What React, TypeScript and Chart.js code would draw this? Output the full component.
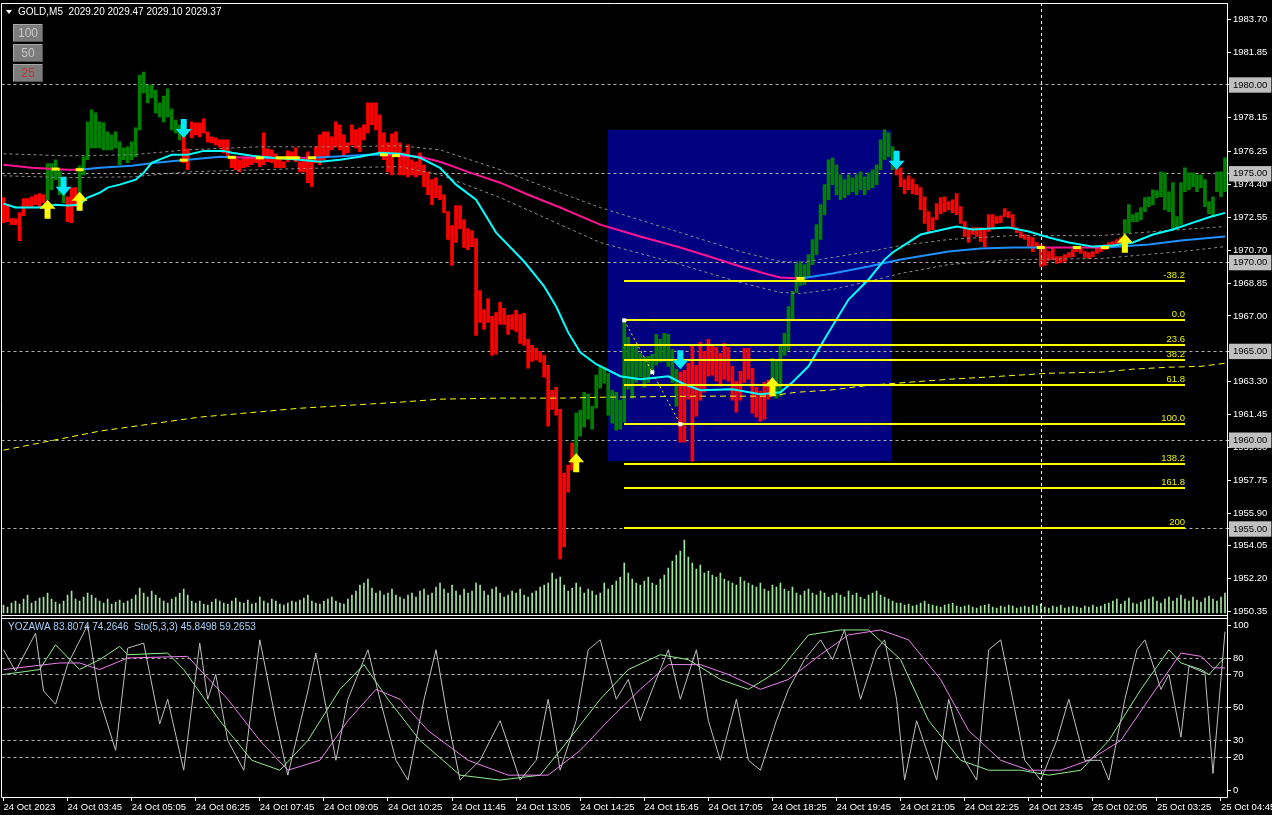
import { useEffect, useRef } from 'react';
import { Chart, registerables } from 'chart.js';

Chart.register(...registerables);

const FONT = '"Liberation Sans", Arial, sans-serif';
const BAR_COUNT = 306;

// Time axis: one label every 16 five-minute bars
const LABEL_STEP = 16;
const timeLabels = [
  '24 Oct 2023', '24 Oct 03:45', '24 Oct 05:05', '24 Oct 06:25', '24 Oct 07:45',
  '24 Oct 09:05', '24 Oct 10:25', '24 Oct 11:45', '24 Oct 13:05', '24 Oct 14:25',
  '24 Oct 15:45', '24 Oct 17:05', '24 Oct 18:25', '24 Oct 19:45', '24 Oct 21:05',
  '24 Oct 22:25', '24 Oct 23:45', '25 Oct 02:05', '25 Oct 03:25', '25 Oct 04:45',
];

// Bar highs / lows (GOLD M5)
const barHigh = [
  1973.66, 1973.26, 1972.48, 1972.48, 1972.81, 1973.60, 1973.60, 1973.71, 1973.82, 1973.88,
  1973.82, 1975.57, 1975.57, 1975.79, 1975.23, 1974.27, 1973.71, 1974.22, 1974.22, 1975.45,
  1975.96, 1977.92, 1978.60, 1978.43, 1977.92, 1977.87, 1977.36, 1977.19, 1977.36, 1976.80,
  1976.46, 1976.52, 1976.80, 1977.59, 1980.56, 1980.73, 1980.00, 1980.00, 1979.72, 1978.99,
  1979.38, 1979.78, 1978.65, 1978.03, 1977.76, 1977.87, 1976.41, 1977.92, 1977.87, 1977.87,
  1978.09, 1977.36, 1977.08, 1977.02, 1976.91, 1976.91, 1976.91, 1975.96, 1975.96, 1975.79,
  1975.96, 1975.96, 1975.90, 1975.90, 1975.90, 1977.30, 1976.41, 1976.35, 1976.13, 1975.90,
  1975.68, 1976.29, 1976.24, 1976.46, 1975.68, 1975.79, 1976.24, 1975.79, 1976.52, 1977.19,
  1977.36, 1977.36, 1977.08, 1977.92, 1977.76, 1977.19, 1976.74, 1977.76, 1977.47, 1977.59,
  1977.76, 1978.99, 1978.99, 1978.99, 1978.31, 1977.30, 1976.74, 1977.25, 1977.36, 1976.74,
  1976.18, 1976.63, 1975.79, 1975.68, 1976.18, 1975.51, 1975.11, 1974.67, 1974.78, 1974.33,
  1973.82, 1972.87, 1972.08, 1973.21, 1973.21, 1972.42, 1971.91, 1971.80, 1971.35, 1968.43,
  1967.36, 1967.98, 1966.97, 1967.19, 1967.76, 1967.42, 1967.03, 1967.08, 1967.31, 1967.08,
  1967.14, 1965.68, 1965.34, 1965.17, 1965.00, 1964.78, 1964.22, 1962.81, 1962.98, 1961.74,
  1958.15, 1958.60, 1959.84, 1961.52, 1961.69, 1962.70, 1962.59, 1961.91, 1963.66, 1964.11,
  1964.11, 1963.77, 1962.81, 1962.70, 1962.25, 1966.69, 1965.79, 1965.29, 1965.34, 1964.89,
  1964.67, 1964.72, 1964.84, 1965.96, 1965.68, 1966.02, 1965.96, 1965.12, 1964.00, 1963.83,
  1963.94, 1964.33, 1965.29, 1964.22, 1965.51, 1965.00, 1965.68, 1965.29, 1965.23, 1964.89,
  1965.45, 1965.23, 1964.16, 1963.32, 1963.88, 1965.17, 1965.17, 1964.05, 1962.98, 1962.76,
  1963.26, 1963.38, 1964.61, 1964.56, 1965.29, 1966.02, 1967.53, 1968.38, 1969.95, 1970.06,
  1969.89, 1970.45, 1971.30, 1972.14, 1973.26, 1974.39, 1975.79, 1975.90, 1975.51, 1974.94,
  1974.67, 1974.94, 1974.78, 1974.94, 1975.11, 1974.83, 1975.06, 1975.23, 1975.51, 1976.91,
  1977.47, 1977.30, 1976.52, 1975.79, 1975.34, 1974.67, 1974.89, 1974.72, 1974.39, 1974.22,
  1973.71, 1972.87, 1972.53, 1973.32, 1973.66, 1973.71, 1973.43, 1973.54, 1973.88, 1973.15,
  1972.31, 1971.91, 1971.97, 1971.97, 1971.97, 1971.86, 1972.70, 1972.70, 1972.59, 1972.64,
  1973.04, 1972.87, 1972.70, 1971.97, 1971.75, 1971.58, 1971.47, 1971.41, 1971.13, 1971.02,
  1970.85, 1970.62, 1970.85, 1970.34, 1970.34, 1970.45, 1970.57, 1970.73, 1970.90, 1970.79,
  1970.62, 1970.57, 1970.62, 1970.85, 1970.96, 1971.02, 1971.13, 1971.18, 1971.30, 1971.41,
  1972.42, 1973.26, 1972.70, 1972.81, 1973.10, 1973.66, 1973.71, 1974.10, 1974.05, 1975.11,
  1975.06, 1973.99, 1974.50, 1972.59, 1974.50, 1975.34, 1975.06, 1975.06, 1974.94, 1974.94,
  1974.67, 1973.43, 1973.71, 1975.11, 1975.11, 1975.90,
];
const barLow = [
  1972.25, 1972.31, 1972.14, 1972.14, 1971.24, 1972.64, 1973.10, 1973.15, 1973.26, 1973.15,
  1973.38, 1973.54, 1974.10, 1974.67, 1973.82, 1973.38, 1972.31, 1972.25, 1973.15, 1973.26,
  1974.94, 1975.79, 1976.46, 1976.46, 1976.46, 1976.35, 1976.35, 1976.35, 1976.46, 1975.51,
  1975.79, 1975.62, 1975.79, 1975.96, 1977.47, 1979.55, 1978.99, 1979.27, 1978.43, 1978.20,
  1977.92, 1978.20, 1977.47, 1977.30, 1976.91, 1975.62, 1975.23, 1977.02, 1977.19, 1977.08,
  1977.30, 1976.80, 1976.74, 1976.63, 1976.52, 1976.18, 1975.90, 1975.34, 1975.23, 1975.11,
  1975.34, 1975.40, 1975.51, 1975.62, 1975.40, 1975.51, 1975.68, 1975.62, 1975.34, 1975.34,
  1975.34, 1975.68, 1975.79, 1975.68, 1975.11, 1975.11, 1974.50, 1974.27, 1975.62, 1975.51,
  1975.79, 1975.96, 1976.35, 1976.52, 1976.35, 1975.96, 1976.18, 1976.63, 1976.46, 1976.24,
  1976.91, 1977.30, 1977.76, 1977.47, 1976.24, 1975.79, 1975.11, 1974.94, 1975.96, 1974.94,
  1974.94, 1974.83, 1974.94, 1974.83, 1974.94, 1974.27, 1973.82, 1973.26, 1973.66, 1973.54,
  1972.81, 1971.30, 1969.84, 1971.13, 1971.91, 1970.85, 1970.73, 1970.90, 1965.90, 1966.63,
  1966.24, 1966.63, 1964.78, 1964.84, 1966.52, 1966.52, 1965.96, 1966.24, 1966.13, 1965.45,
  1965.34, 1964.05, 1964.44, 1964.50, 1964.39, 1963.55, 1960.79, 1961.74, 1961.41, 1953.32,
  1953.99, 1957.08, 1958.32, 1958.26, 1960.23, 1960.73, 1961.18, 1960.62, 1961.80, 1962.93,
  1963.21, 1961.41, 1960.96, 1960.57, 1960.62, 1961.01, 1962.87, 1962.37, 1963.26, 1963.55,
  1962.98, 1963.26, 1963.83, 1964.22, 1964.39, 1964.44, 1964.16, 1963.26, 1961.91, 1959.89,
  1959.89, 1962.31, 1958.82, 1961.35, 1962.25, 1962.70, 1963.60, 1963.66, 1963.32, 1963.04,
  1963.43, 1963.32, 1962.25, 1961.58, 1962.25, 1963.26, 1963.43, 1961.52, 1961.30, 1961.07,
  1961.18, 1962.31, 1962.48, 1962.37, 1962.48, 1964.78, 1965.06, 1966.75, 1968.32, 1968.71,
  1968.77, 1969.22, 1969.89, 1970.45, 1971.30, 1972.70, 1973.54, 1974.39, 1973.82, 1973.54,
  1973.66, 1973.82, 1973.99, 1973.82, 1974.10, 1973.82, 1974.10, 1974.22, 1974.39, 1975.23,
  1975.79, 1975.96, 1975.23, 1974.94, 1974.27, 1973.88, 1974.10, 1973.88, 1973.82, 1972.98,
  1972.20, 1971.69, 1971.86, 1972.42, 1972.76, 1972.87, 1972.98, 1972.81, 1972.70, 1972.20,
  1971.47, 1971.13, 1971.58, 1971.47, 1971.18, 1970.90, 1971.75, 1971.97, 1972.20, 1972.25,
  1972.59, 1972.53, 1971.91, 1971.69, 1971.41, 1971.30, 1970.85, 1970.62, 1970.85, 1969.78,
  1969.84, 1970.12, 1970.17, 1969.95, 1970.01, 1970.06, 1970.29, 1970.34, 1970.62, 1970.51,
  1970.29, 1970.23, 1970.34, 1970.51, 1970.62, 1970.73, 1970.85, 1970.90, 1970.96, 1971.07,
  1971.58, 1971.69, 1972.31, 1972.31, 1972.42, 1972.87, 1973.15, 1973.26, 1973.66, 1973.71,
  1972.98, 1972.87, 1971.86, 1971.97, 1972.14, 1973.99, 1974.10, 1974.27, 1973.99, 1974.22,
  1973.15, 1972.76, 1972.59, 1973.99, 1973.71, 1973.99,
];
// Bar colour runs: 'u' = up (green), 'd' = down (red)
const trendRuns: [string, number][] = [
  ['d', 11], ['u', 5], ['d', 3], ['u', 26], ['d', 98], ['u', 26], ['d', 23], ['u', 31], ['d', 57], ['u', 26],
];
// Tick volume per bar
const tickVolume = [
  8, 6, 10, 12, 9, 14, 18, 10, 12, 15, 16, 20, 14, 11, 9, 12,
  18, 22, 14, 12, 16, 20, 18, 15, 12, 10, 14, 9, 11, 13, 10, 12,
  14, 18, 25, 20, 16, 22, 18, 15, 12, 10, 14, 16, 20, 24, 18, 12,
  10, 12, 9, 8, 11, 14, 12, 10, 9, 12, 15, 11, 10, 13, 9, 10,
  16, 12, 10, 14, 12, 9, 8, 10, 12, 11, 13, 15, 18, 12, 10, 9,
  12, 14, 16, 12, 10, 9, 14, 18, 22, 28, 30, 34, 25, 20, 22, 18,
  20, 24, 18, 16, 14, 18, 20, 16, 22, 24, 18, 20, 26, 30, 24, 20,
  28, 22, 18, 24, 20, 22, 30, 28, 22, 18, 24, 26, 20, 16, 18, 22,
  20, 24, 18, 16, 20, 22, 26, 28, 30, 40, 34, 36, 28, 22, 25, 30,
  26, 20, 24, 22, 18, 20, 30, 24, 28, 32, 36, 50, 40, 34, 30, 28,
  32, 36, 30, 28, 34, 38, 45, 52, 58, 62, 73, 56, 50, 44, 48, 40,
  42, 38, 36, 40, 34, 32, 30, 28, 36, 32, 30, 28, 26, 30, 24, 22,
  28, 26, 30, 24, 22, 26, 20, 18, 22, 24, 20, 18, 22, 20, 16, 18,
  20, 18, 16, 22, 18, 20, 16, 14, 18, 20, 22, 18, 16, 14, 12, 10,
  10, 8, 9, 7, 8, 10, 12, 9, 8, 7, 6, 8, 9, 10, 7, 6,
  7, 8, 6, 5, 7, 8, 9, 6, 5, 7, 6, 8, 7, 5, 6, 7,
  6, 8, 7, 9, 6, 5, 7, 6, 8, 5, 6, 7, 6, 5, 7, 6,
  8, 6, 7, 9, 10, 12, 14, 9, 12, 15, 10, 9, 11, 13, 14, 16,
  12, 10, 14, 16, 12, 15, 18, 14, 12, 16, 13, 11, 15, 17, 14, 12,
  16, 20,
];

// Slow moving average [bar, price] and its falling stretches (drawn pink)
const slowMa: [number, number][] = [
  [0, 1975.51], [7, 1975.34], [16, 1975.23], [19, 1975.23], [24, 1975.34], [32, 1975.45], [38, 1975.62],
  [46, 1975.79], [54, 1975.96], [57, 1975.93], [64, 1975.90], [69, 1975.90], [71, 1975.90], [73, 1975.90],
  [77, 1975.90], [82, 1975.96], [91, 1976.07], [95, 1976.07], [99, 1976.01], [104, 1975.96], [109, 1975.68],
  [116, 1975.11], [124, 1974.50], [131, 1973.82], [139, 1973.10], [149, 1972.14], [159, 1971.47],
  [169, 1970.85], [177, 1970.29], [184, 1969.78], [191, 1969.33], [194, 1969.16], [199, 1969.11],
  [207, 1969.39], [216, 1969.78], [224, 1970.17], [236, 1970.62], [244, 1970.79], [252, 1970.85],
  [259, 1970.85], [268, 1970.85], [275, 1970.85], [286, 1971.02], [294, 1971.24], [305, 1971.47],
];
const slowFalling: [number, number][] = [[0, 19], [57, 64], [69, 71], [73, 77], [95, 199], [259, 275]];
const slowFlatMarks = [13, 19, 45, 57, 64, 69, 71, 73, 77, 95, 98, 199, 259, 268, 275];
// Envelope around the slow average
const envUpper: [number, number][] = [
  [0, 1976.13], [16, 1976.01], [32, 1976.07], [46, 1976.35], [64, 1976.52], [82, 1976.52], [99, 1976.58],
  [109, 1976.35], [124, 1975.23], [139, 1973.93], [149, 1973.10], [169, 1971.69], [184, 1970.62],
  [194, 1970.06], [199, 1970.01], [207, 1970.29], [216, 1970.62], [224, 1970.96], [236, 1971.30],
  [252, 1971.52], [274, 1971.52], [294, 1971.86], [305, 1972.03],
];
const envLower: [number, number][] = [
  [0, 1974.89], [16, 1974.78], [32, 1974.83], [46, 1975.11], [64, 1975.23], [82, 1975.34], [99, 1975.40],
  [109, 1974.94], [124, 1973.66], [139, 1972.14], [149, 1971.13], [169, 1969.89], [184, 1968.88],
  [194, 1968.32], [199, 1968.26], [207, 1968.49], [216, 1968.94], [224, 1969.39], [236, 1969.89],
  [252, 1970.17], [274, 1970.23], [294, 1970.62], [305, 1970.90],
];
// Fast moving average
const fastMa: [number, number][] = [
  [0, 1973.32], [3, 1973.10], [9, 1973.10], [13, 1973.26], [16, 1973.21], [19, 1973.26], [21, 1973.66],
  [24, 1973.93], [26, 1974.22], [29, 1974.39], [33, 1974.67], [35, 1975.06], [37, 1975.62], [40, 1975.90],
  [42, 1976.07], [46, 1976.07], [50, 1976.29], [55, 1976.29], [57, 1976.18], [62, 1976.01], [67, 1975.90],
  [74, 1975.79], [79, 1975.68], [84, 1975.79], [89, 1975.96], [94, 1976.18], [99, 1976.13], [104, 1975.90],
  [109, 1975.34], [113, 1974.39], [118, 1973.54], [123, 1971.69], [130, 1970.06], [135, 1968.66],
  [138, 1967.53], [141, 1966.07], [144, 1964.95], [148, 1964.28], [154, 1963.60], [159, 1963.43],
  [166, 1963.60], [170, 1963.15], [174, 1962.81], [182, 1962.87], [189, 1962.59], [194, 1962.70],
  [197, 1963.26], [201, 1964.16], [206, 1966.07], [211, 1967.92], [216, 1969.05], [220, 1970.17],
  [222, 1970.57], [229, 1971.58], [238, 1972.03], [242, 1971.86], [251, 1971.97], [256, 1971.75],
  [261, 1971.41], [266, 1971.13], [272, 1970.90], [277, 1970.96], [282, 1971.13], [287, 1971.58],
  [292, 1971.86], [297, 1972.25], [301, 1972.55], [305, 1972.80],
];
// Volume-weighted average price
const vwap: [number, number][] = [
  [0, 1959.44], [24, 1960.51], [49, 1961.30], [74, 1961.80], [99, 1962.14], [109, 1962.31], [124, 1962.37],
  [139, 1962.37], [150, 1962.42], [174, 1962.48], [191, 1962.48], [198, 1962.70], [206, 1962.81],
  [216, 1963.09], [236, 1963.43], [249, 1963.60], [261, 1963.77], [274, 1963.83], [282, 1964.00],
  [291, 1964.11], [299, 1964.16], [305, 1964.33],
];

// Oscillator window
const oscFast: [number, number][] = [
  [0, 85], [3, 72], [8, 95], [10, 60], [13, 52], [16, 76], [21, 100], [24, 55], [28, 24], [31, 86], [35, 89],
  [39, 40], [41, 55], [45, 12], [49, 89], [51, 55], [53, 70], [56, 30], [60, 12], [64, 91], [68, 42], [71, 9],
  [76, 60], [78, 83], [83, 18], [86, 55], [91, 85], [94, 55], [98, 18], [101, 6], [105, 55], [108, 85],
  [111, 42], [114, 6], [119, 18], [124, 42], [129, 6], [133, 18], [136, 55], [139, 12], [143, 42], [146, 85],
  [149, 91], [153, 55], [156, 67], [159, 42], [162, 61], [166, 85], [169, 55], [173, 85], [176, 42],
  [179, 18], [183, 55], [186, 18], [189, 12], [193, 42], [196, 61], [200, 79], [204, 91], [207, 79],
  [210, 97], [214, 55], [218, 85], [220, 91], [223, 55], [225, 6], [228, 42], [233, 6], [236, 55], [240, 18],
  [243, 6], [246, 85], [249, 91], [252, 55], [255, 18], [259, 6], [263, 30], [266, 55], [270, 18], [274, 18],
  [276, 6], [280, 55], [283, 85], [285, 91], [289, 61], [291, 70], [294, 32], [296, 75], [300, 71],
  [302, 10], [305, 96],
];
const oscSignal: [number, number][] = [
  [0, 70], [9, 73], [13, 88], [19, 73], [24, 79], [29, 87], [31, 82], [41, 83], [45, 73], [54, 42], [62, 18],
  [69, 12], [76, 30], [84, 61], [90, 76], [96, 55], [104, 30], [114, 9], [124, 6], [134, 9], [141, 30],
  [149, 55], [156, 73], [164, 82], [171, 79], [179, 67], [186, 61], [194, 73], [201, 94], [209, 97],
  [216, 97], [224, 79], [231, 42], [239, 18], [246, 12], [254, 12], [261, 9], [269, 12], [276, 30],
  [284, 61], [291, 85], [294, 77], [299, 73], [301, 70], [304, 78], [305, 80],
];
const oscSlow: [number, number][] = [
  [0, 73], [14, 77], [19, 77], [24, 73], [31, 80], [46, 81], [49, 73], [56, 55], [64, 30], [71, 12], [79, 18],
  [86, 42], [93, 61], [99, 55], [106, 36], [116, 18], [126, 9], [136, 9], [144, 24], [151, 42], [159, 61],
  [166, 76], [174, 76], [181, 70], [189, 61], [196, 67], [204, 82], [211, 94], [219, 97], [226, 91],
  [234, 67], [241, 36], [249, 18], [256, 12], [264, 12], [271, 18], [279, 30], [286, 55], [294, 83],
  [299, 81], [302, 74], [305, 74],
];

// Price axis labels; the round levels get a boxed label and a dashed level line
const priceTicks = [
  1983.70, 1981.85, 1978.15, 1976.25, 1974.40, 1972.55, 1970.70, 1968.85, 1967.00, 1963.30, 1961.45,
  1959.60, 1957.75, 1955.90, 1954.05, 1952.20, 1950.35,
  1980.00, 1975.00, 1970.00, 1965.00, 1960.00, 1955.00,
];
const boxedPrices = [1980, 1975, 1970, 1965, 1960, 1955];
const oscTicks = [100, 80, 70, 50, 30, 20, 0];
const oscLevels = [80, 70, 50, 30, 20];

// Fibonacci retracement
const fibZeroPrice = 1966.75;
const fibFullPrice = 1960.9;
const fibStartBar = 155;
const fibPivotBar = 169;
const fibEndBar = 295;
const fibLevels = [-38.2, 0, 23.6, 38.2, 61.8, 100, 138.2, 161.8, 200];
const fibTexts = ['-38.2', '0.0', '23.6', '38.2', '61.8', '100.0', '138.2', '161.8', '200'];

// Highlighted zone
const zoneBars = [151, 222];
const zonePrices = [1977.47, 1958.82];

// Signal arrows [bar, tip price]
const buySignals: [number, number][] = [[11, 1973.54], [19, 1973.99], [143, 1959.27], [192, 1963.55], [280, 1971.63]];
const sellSignals: [number, number][] = [[15, 1973.77], [45, 1977.02], [169, 1964.0], [223, 1975.23]];
const crosshairBar = 259;

const headerText = 'GOLD,M5  2029.20 2029.47 2029.10 2029.37';
const oscTitle = 'YOZAWA 83.8074 74.2646  Sto(5,3,3) 45.8498 59.2653';
const presetButtons: [string, string][] = [['100', '#c8c8c8'], ['50', '#c8c8c8'], ['25', '#c03838']];

const barTrend: string[] = trendRuns.flatMap(([t, n]) => Array(n).fill(t));
const pts = (arr: [number, number][]) => arr.map(([x, y]) => ({ x, y }));
const isFalling = (b: number) => slowFalling.some(([a, c]) => b >= a && b <= c);
const slowAt = (b: number) => {
  for (let i = 1; i < slowMa.length; i++) {
    const [x0, y0] = slowMa[i - 1];
    const [x1, y1] = slowMa[i];
    if (b >= x0 && b <= x1) return y0 + ((y1 - y0) * (b - x0)) / (x1 - x0);
  }
  return slowMa[slowMa.length - 1][1];
};

function drawArrow(ctx: CanvasRenderingContext2D, x: number, tip: number, s: number, color: string) {
  ctx.fillStyle = color;
  ctx.beginPath();
  ctx.moveTo(x, tip);
  ctx.lineTo(x + 8, tip + s * 9);
  ctx.lineTo(x + 3, tip + s * 9);
  ctx.lineTo(x + 3, tip + s * 19);
  ctx.lineTo(x - 3, tip + s * 19);
  ctx.lineTo(x - 3, tip + s * 9);
  ctx.lineTo(x - 8, tip + s * 9);
  ctx.closePath();
  ctx.fill();
}

const terminalDecor = {
  id: 'terminalDecor',
  beforeDraw(chart: any) {
    const { ctx, width, height, scales } = chart;
    ctx.save();
    ctx.fillStyle = '#000';
    ctx.fillRect(0, 0, width, height);
    const x0 = scales.xl.getPixelForValue(zoneBars[0]);
    const x1 = scales.xl.getPixelForValue(zoneBars[1]);
    const y0 = scales.y.getPixelForValue(zonePrices[0]);
    const y1 = scales.y.getPixelForValue(zonePrices[1]);
    ctx.fillStyle = '#000080';
    ctx.fillRect(Math.round(x0), Math.round(y0), Math.round(x1 - x0), Math.round(y1 - y0));
    ctx.restore();
  },
  afterDatasetsDraw(chart: any) {
    const { ctx, scales } = chart;
    const xl = scales.xl;
    const yP = scales.y;
    const area = chart.chartArea;
    ctx.save();

    // flat-slope marks on the slow average
    ctx.fillStyle = '#ffff00';
    slowFlatMarks.forEach((b) => {
      const px = xl.getPixelForValue(b);
      const py = yP.getPixelForValue(slowAt(b));
      ctx.fillRect(px - 4, py - 1.5, 8, 3);
    });

    // Fibonacci levels
    const fx0 = Math.round(xl.getPixelForValue(fibStartBar));
    const fx1 = Math.round(xl.getPixelForValue(fibEndBar));
    ctx.font = `9.5px ${FONT}`;
    ctx.textAlign = 'right';
    ctx.textBaseline = 'alphabetic';
    fibLevels.forEach((lvl, i) => {
      const price = fibZeroPrice - ((fibZeroPrice - fibFullPrice) * lvl) / 100;
      const py = Math.round(yP.getPixelForValue(price));
      ctx.fillStyle = '#ffff00';
      ctx.fillRect(fx0, py - 1, fx1 - fx0, 2);
      ctx.fillStyle = '#e8f000';
      ctx.fillText(fibTexts[i], fx1, py - 3);
    });
    // fib anchor trend line
    const ax = xl.getPixelForValue(fibStartBar);
    const ay = yP.getPixelForValue(fibZeroPrice);
    const bx = xl.getPixelForValue(fibPivotBar);
    const by = yP.getPixelForValue(fibFullPrice);
    ctx.strokeStyle = '#ffff00';
    ctx.lineWidth = 1;
    ctx.setLineDash([2, 3]);
    ctx.beginPath();
    ctx.moveTo(ax, ay);
    ctx.lineTo(bx, by);
    ctx.stroke();
    ctx.setLineDash([]);
    ctx.fillStyle = '#ffffff';
    [[ax, ay], [(ax + bx) / 2, (ay + by) / 2], [bx, by]].forEach(([x, y]) => ctx.fillRect(x - 2, y - 2, 4, 4));

    // signal arrows
    buySignals.forEach(([b, p]) => drawArrow(ctx, xl.getPixelForValue(b), yP.getPixelForValue(p), 1, '#ffff00'));
    sellSignals.forEach(([b, p]) => drawArrow(ctx, xl.getPixelForValue(b), yP.getPixelForValue(p), -1, '#00e8ff'));

    // crosshair
    const cx = Math.round(xl.getPixelForValue(crosshairBar)) + 0.5;
    ctx.strokeStyle = '#ffffff';
    ctx.setLineDash([3, 3]);
    ctx.beginPath();
    ctx.moveTo(cx, area.top);
    ctx.lineTo(cx, area.bottom + 2);
    ctx.stroke();
    ctx.setLineDash([]);

    // panel frames
    const mainBottom = Math.round(yP.bottom) - 1.5;
    const oscTop = Math.round(scales.yOsc.top) + 1.5;
    const L = 1.5;
    const R = Math.round(area.right) + 0.5;
    ctx.strokeStyle = '#ffffff';
    ctx.lineWidth = 1;
    ctx.beginPath();
    ctx.moveTo(L, area.top + 0.5); ctx.lineTo(R, area.top + 0.5);
    ctx.moveTo(L, area.top); ctx.lineTo(L, Math.round(area.bottom) + 0.5);
    ctx.moveTo(R, area.top); ctx.lineTo(R, Math.round(area.bottom) + 0.5);
    ctx.moveTo(L, mainBottom); ctx.lineTo(R, mainBottom);
    ctx.moveTo(L, oscTop); ctx.lineTo(R, oscTop);
    ctx.moveTo(L, Math.round(area.bottom) + 0.5); ctx.lineTo(R, Math.round(area.bottom) + 0.5);
    ctx.stroke();

    // header
    ctx.fillStyle = '#ffffff';
    ctx.beginPath();
    ctx.moveTo(6, 10); ctx.lineTo(12, 10); ctx.lineTo(9, 14); ctx.closePath();
    ctx.fill();
    ctx.font = `10px ${FONT}`;
    ctx.textAlign = 'left';
    ctx.textBaseline = 'middle';
    ctx.fillText(headerText, 18, 12);

    // preset buttons
    presetButtons.forEach(([label, color], i) => {
      const bx0 = 13, by0 = 24 + i * 20, w = 30, h = 18;
      ctx.fillStyle = '#7c7c7c';
      ctx.fillRect(bx0, by0, w, h);
      ctx.strokeStyle = '#a8a8a8';
      ctx.beginPath();
      ctx.moveTo(bx0 + 0.5, by0 + h); ctx.lineTo(bx0 + 0.5, by0 + 0.5); ctx.lineTo(bx0 + w, by0 + 0.5);
      ctx.stroke();
      ctx.strokeStyle = '#555555';
      ctx.beginPath();
      ctx.moveTo(bx0 + w - 0.5, by0); ctx.lineTo(bx0 + w - 0.5, by0 + h - 0.5); ctx.lineTo(bx0, by0 + h - 0.5);
      ctx.stroke();
      ctx.fillStyle = color;
      ctx.font = `12px ${FONT}`;
      ctx.textAlign = 'center';
      ctx.fillText(label, bx0 + w / 2, by0 + h / 2 + 1);
    });

    // oscillator caption
    ctx.font = `10px ${FONT}`;
    ctx.textAlign = 'left';
    ctx.fillStyle = '#a8d0f8';
    ctx.fillText(oscTitle, 8, Math.round(scales.yOsc.top) + 10);
    ctx.restore();
  },
};

export default function App() {
  const canvasRef = useRef<HTMLCanvasElement>(null);

  useEffect(() => {
    document.body.style.margin = '0';
    document.body.style.background = '#000';
    const canvas = canvasRef.current;
    if (!canvas) return;
    const tickFont = { family: FONT, size: 9.5 };
    const isBoxed = (v: number) => boxedPrices.some((b) => Math.abs(b - v) < 0.001);

    const chart = new Chart(canvas, {
      type: 'bar',
      data: {
        labels: Array.from({ length: BAR_COUNT }, (_, i) => String(i)),
        datasets: [
          {
            type: 'bar',
            data: tickVolume,
            xAxisID: 'x',
            yAxisID: 'yv',
            backgroundColor: '#a0e4a0',
            barThickness: 1,
            grouped: false,
            order: 10,
          } as any,
          {
            type: 'bar',
            data: barLow.map((l, i) => [l, barHigh[i]]),
            xAxisID: 'x',
            yAxisID: 'y',
            backgroundColor: barTrend.map((t) => (t === 'u' ? '#008000' : '#ff0000')),
            barThickness: 3,
            grouped: false,
            borderWidth: 0,
            order: 6,
          } as any,
          {
            type: 'line',
            data: pts(envUpper),
            xAxisID: 'xl',
            yAxisID: 'y',
            borderColor: '#8a8a8a',
            borderWidth: 1,
            borderDash: [3, 3],
            pointRadius: 0,
            order: 5,
          },
          {
            type: 'line',
            data: pts(envLower),
            xAxisID: 'xl',
            yAxisID: 'y',
            borderColor: '#8a8a8a',
            borderWidth: 1,
            borderDash: [3, 3],
            pointRadius: 0,
            order: 5,
          },
          {
            type: 'line',
            data: pts(vwap),
            xAxisID: 'xl',
            yAxisID: 'y',
            borderColor: '#ffff00',
            borderWidth: 1,
            borderDash: [6, 4],
            pointRadius: 0,
            order: 4,
          },
          {
            type: 'line',
            data: pts(slowMa),
            xAxisID: 'xl',
            yAxisID: 'y',
            borderColor: '#1e90ff',
            borderWidth: 2,
            pointRadius: 0,
            segment: {
              borderColor: (c: any) => (isFalling((c.p0.parsed.x + c.p1.parsed.x) / 2) ? '#ff1493' : '#1e90ff'),
            },
            order: 3,
          },
          {
            type: 'line',
            data: pts(fastMa),
            xAxisID: 'xl',
            yAxisID: 'y',
            borderColor: '#00ffff',
            borderWidth: 2,
            pointRadius: 0,
            order: 2,
          },
          {
            type: 'line',
            data: pts(oscSlow),
            xAxisID: 'xl',
            yAxisID: 'yOsc',
            borderColor: '#ee82ee',
            borderWidth: 1,
            pointRadius: 0,
            order: 1,
          },
          {
            type: 'line',
            data: pts(oscSignal),
            xAxisID: 'xl',
            yAxisID: 'yOsc',
            borderColor: '#90ee90',
            borderWidth: 1,
            pointRadius: 0,
            order: 1,
          },
          {
            type: 'line',
            data: pts(oscFast),
            xAxisID: 'xl',
            yAxisID: 'yOsc',
            borderColor: '#c0c0c0',
            borderWidth: 1,
            pointRadius: 0,
            order: 0,
          },
        ],
      },
      options: {
        responsive: false,
        animation: false,
        devicePixelRatio: 1,
        events: [],
        layout: { padding: { left: 1.5, top: 3, right: 0, bottom: 0 } },
        plugins: { legend: { display: false }, tooltip: { enabled: false } },
        scales: {
          x: {
            type: 'category',
            position: 'bottom',
            offset: true,
            afterFit: (s: any) => { s.height = 18; s.paddingLeft = 0; s.paddingRight = 0; },
            border: { display: false },
            grid: { drawOnChartArea: false, tickColor: '#ffffff', tickLength: 4, offset: false },
            ticks: {
              autoSkip: false,
              maxRotation: 0,
              align: 'start',
              padding: 1,
              color: '#ffffff',
              font: tickFont,
              callback: (_v: any, i: number) => (i % LABEL_STEP === 0 ? timeLabels[i / LABEL_STEP] : null),
            },
          },
          xl: {
            type: 'linear',
            display: false,
            offset: false,
            grid: { offset: false },
            bounds: 'data',
            min: -0.5,
            max: BAR_COUNT - 0.5,
            afterFit: (s: any) => { s.paddingLeft = 0; s.paddingRight = 0; },
          },
          y: {
            type: 'linear',
            position: 'right',
            stack: 'panes',
            stackWeight: 614,
            min: 1950.045,
            max: 1984.617,
            afterFit: (s: any) => { s.width = 45; s.paddingTop = 0; s.paddingBottom = 0; },
            afterBuildTicks: (s: any) => { s.ticks = priceTicks.map((value) => ({ value })); },
            border: { display: false, dash: [3, 3] },
            grid: {
              color: (c: any) => (c.tick && isBoxed(c.tick.value) ? '#b0b0b0' : 'rgba(0,0,0,0)'),
              tickColor: '#ffffff',
              tickLength: 4,
            },
            ticks: {
              autoSkip: false,
              padding: 2,
              font: tickFont,
              color: (c: any) => (c.tick && isBoxed(c.tick.value) ? '#000000' : '#ffffff'),
              showLabelBackdrop: (c: any) => !!(c.tick && isBoxed(c.tick.value)),
              backdropColor: '#c0c0c0',
              backdropPadding: { top: 2, bottom: 2, left: 4, right: 4 },
              callback: (v: any) => Number(v).toFixed(2),
            },
          },
          yOsc: {
            type: 'linear',
            position: 'right',
            stack: 'panes',
            stackWeight: 180,
            min: -4.24,
            max: 104.85,
            afterFit: (s: any) => { s.width = 45; s.paddingTop = 0; s.paddingBottom = 0; },
            afterBuildTicks: (s: any) => { s.ticks = oscTicks.map((value) => ({ value })); },
            border: { display: false, dash: [3, 3] },
            grid: {
              color: (c: any) => (c.tick && oscLevels.includes(c.tick.value) ? '#b0b0b0' : 'rgba(0,0,0,0)'),
              tickColor: '#ffffff',
              tickLength: 4,
            },
            ticks: { autoSkip: false, padding: 2, font: tickFont, color: '#ffffff', callback: (v: any) => String(v) },
          },
          yv: { type: 'linear', display: false, min: -184, max: 610 },
        },
      } as any,
      plugins: [terminalDecor],
    });
    return () => chart.destroy();
  }, []);

  return (
    <div style={{ width: 1272, height: 815, background: '#000' }}>
      <canvas ref={canvasRef} width={1272} height={815} style={{ display: 'block' }} />
    </div>
  );
}
